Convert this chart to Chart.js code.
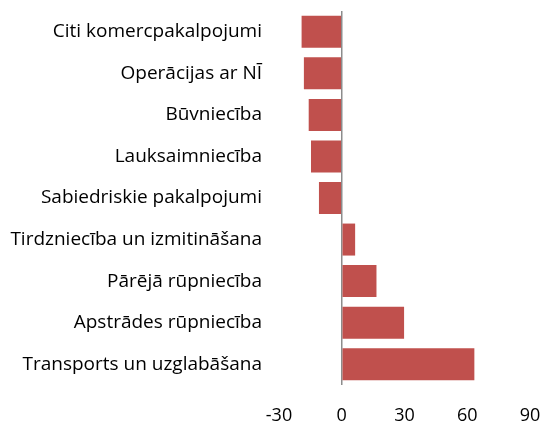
<!DOCTYPE html>
<html>
<head>
<meta charset="utf-8">
<script src="https://cdn.jsdelivr.net/npm/chart.js@4"></script>
<style>
	html, body { margin: 0; padding: 0; background: #fff; }
	#wrap { width: 540px; height: 426px; }
</style>
</head>
<body>
<div id="wrap"><canvas id="chart"></canvas></div>
<script>
// sectors, top to bottom
const categories = [
	'Citi komercpakalpojumi',
	'Operācijas ar NĪ',
	'Būvniecība',
	'Lauksaimniecība',
	'Sabiedriskie pakalpojumi',
	'Tirdzniecība un izmitināšana',
	'Pārējā rūpniecība',
	'Apstrādes rūpniecība',
	'Transports un uzglabāšana',
];
const values = [ -19.2, -18.1, -15.8, -14.7, -10.9, 6.4, 16.6, 29.8, 63.4 ];
const xTicks = [ -30, 0, 30, 60, 90 ];

const fontFamily = '"Open Sans", sans-serif';

// drop the auto padding chart.js adds for half tick labels
let noEdgePadding = (scale) => {
	scale.paddingLeft = 0;
	scale.paddingRight = 0;
	scale.paddingTop = 0;
	scale.paddingBottom = 0;
};

new Chart(document.getElementById('chart'), {
	type: 'bar',
	data: {
		labels: categories,
		datasets: [ {
			data: values,
			backgroundColor: '#C0504D',
			borderWidth: 0,
			barPercentage: 0.77,
			categoryPercentage: 1,
		} ],
	},
	options: {
		indexAxis: 'y',
		responsive: true,
		maintainAspectRatio: false,
		animation: false,
		layout: { padding: { top: 11, right: 10, left: 0, bottom: 0 } },
		plugins: {
			legend: { display: false },
			tooltip: { enabled: false },
		},
		scales: {
			x: {
				min: -30,
				max: 90,
				afterBuildTicks: (scale) => { scale.ticks = xTicks.map(v => ({ value: v })); },
				afterFit: (scale) => { scale.height = 41; noEdgePadding(scale); },
				border: { display: false },
				grid: {
					drawTicks: false,
					color: (ctx) => (ctx.tick && ctx.tick.value === 0 ? '#8c8c8c' : 'rgba(0,0,0,0)'),
					lineWidth: 1.5,
				},
				ticks: {
					padding: 20,
					color: '#000',
					font: { family: fontFamily, size: 18 },
				},
			},
			y: {
				afterFit: (scale) => { scale.width = 279; noEdgePadding(scale); },
				border: { display: false },
				grid: { display: false, drawTicks: false },
				ticks: {
					padding: 17,
					color: '#000',
					font: { family: fontFamily, size: 19 },
				},
			},
		},
	},
});
</script>
</body>
</html>
